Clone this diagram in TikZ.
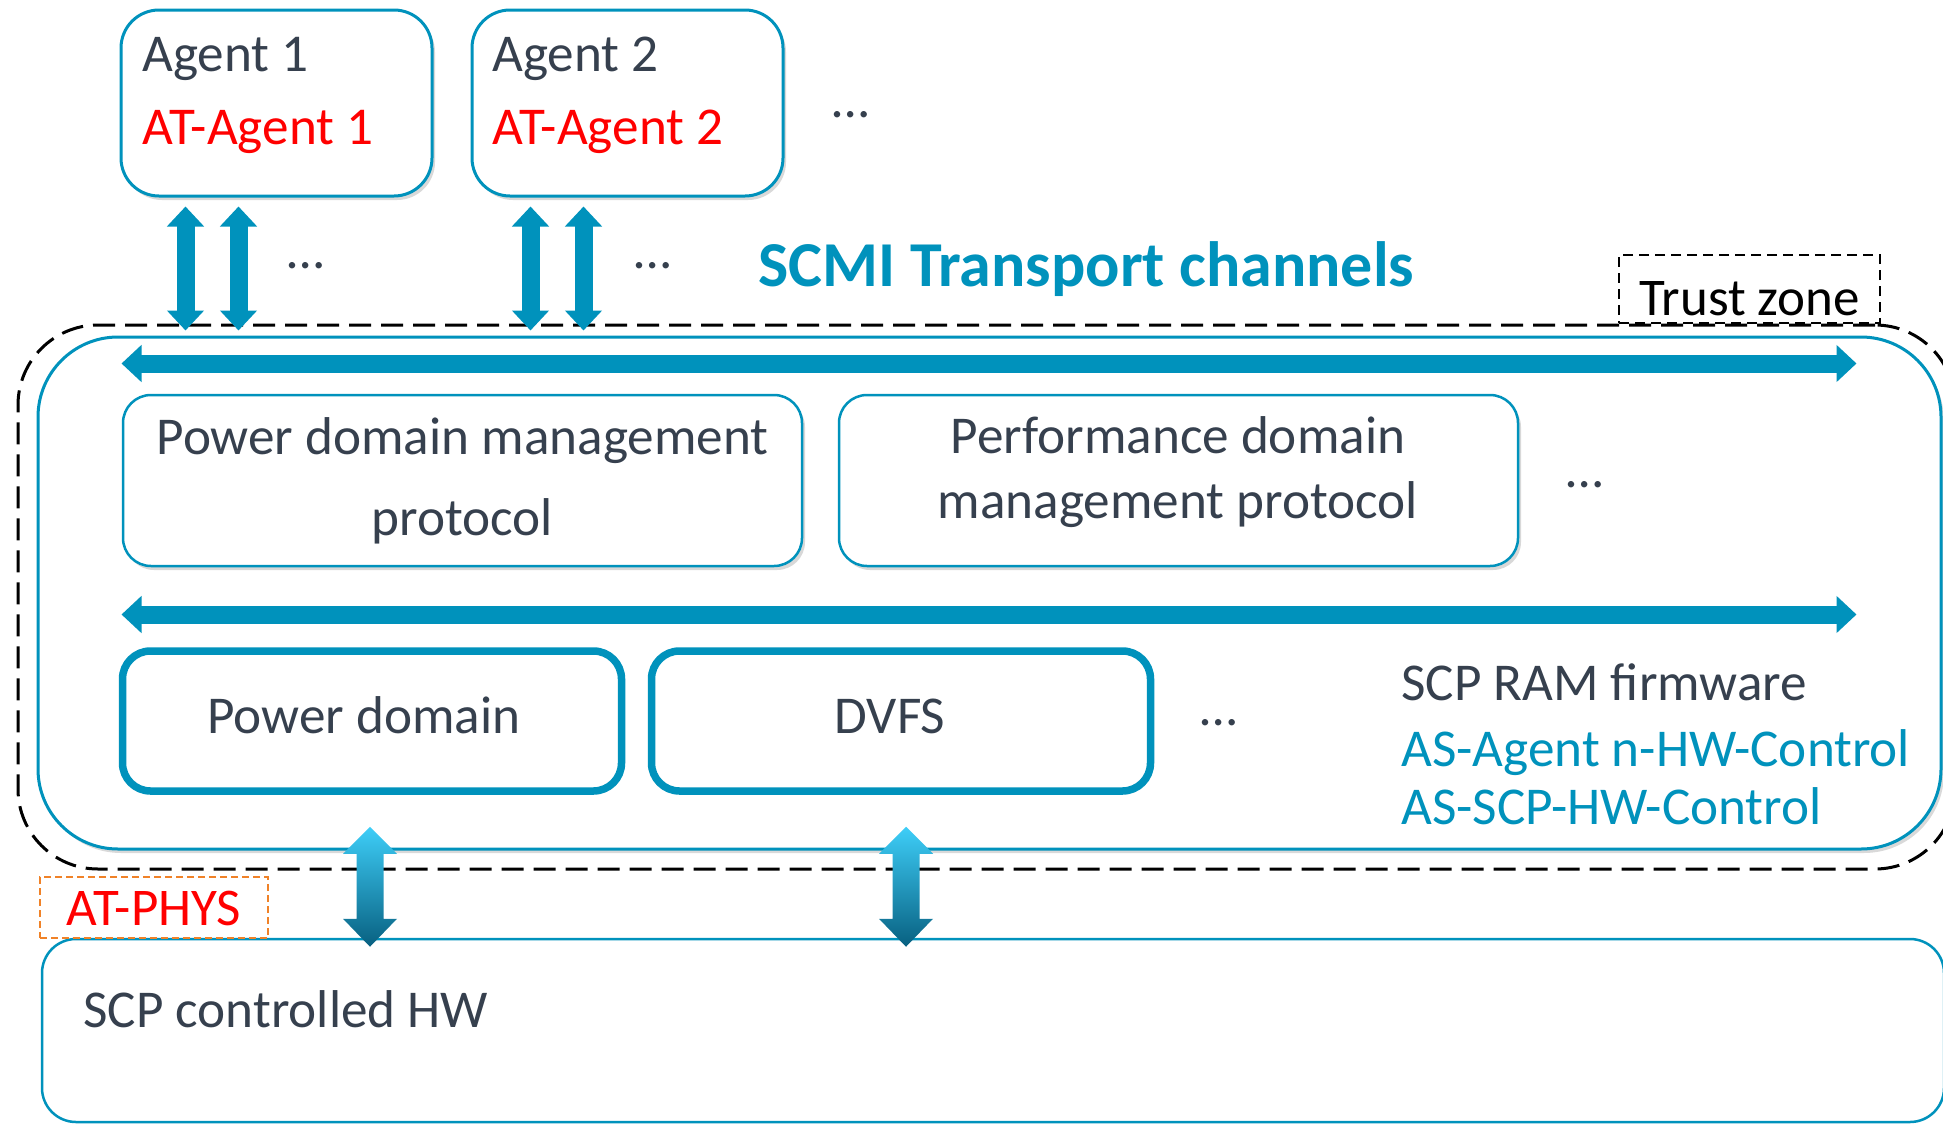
\documentclass[tikz,border=0pt]{standalone}
\usepackage{fontspec}
\setmainfont{Carlito}
\usepackage{tikz}
\usetikzlibrary{positioning}
\usetikzlibrary{arrows.meta,shadows}

\definecolor{scmiblue}{RGB}{0,146,188}
\definecolor{txtgray}{RGB}{54,64,78}
\definecolor{atred}{RGB}{255,0,0}
\definecolor{physorange}{RGB}{240,130,40}
\definecolor{hwtop}{RGB}{62,206,248}
\definecolor{hwbot}{RGB}{8,96,128}

% shaded up/down arrow between a unit box and the HW box
\newcommand\hwlink[1]{%
  \shade[hwgrad] (#1) ++(0,-111) -- ++(27,27) -- ++(-13.5,0) -- ++(0,65) -- ++(13.5,0)
    -- ++(-27,28) -- ++(-27,-28) -- ++(13.5,0) -- ++(0,-65) -- ++(-13.5,0) -- cycle;}

\begin{document}
\begin{tikzpicture}[x=0.5pt, y=-0.5pt,
    boxshadow/.style = {drop shadow={shadow xshift=1.5pt, shadow yshift=-2pt, opacity=.3}},
    agent/.style = {draw=scmiblue, line width=1.5pt, rounded corners=19pt, fill=white,
                    minimum width=155.5pt, minimum height=93pt, boxshadow},
    proto/.style = {draw=scmiblue, line width=1.25pt, rounded corners=14pt, fill=white,
                    minimum width=339.5pt, minimum height=85.5pt, boxshadow},
    unit/.style = {draw=scmiblue, line width=3.75pt, rounded corners=14pt,
                   minimum width=249.5pt, minimum height=70pt},
    txt/.style = {text=txtgray, font=\fontsize{26.6}{31}\selectfont, inner sep=0pt, anchor=base},
    chan/.style = {draw=scmiblue, line width=9pt,
                   {Triangle[width=18pt,length=10pt]}-{Triangle[width=18pt,length=10pt]}},
    hwgrad/.style = {top color=hwtop, bottom color=hwbot, draw=none}]
  \useasboundingbox (0,0) rectangle (1943,1124);
  \clip (0,0) rectangle (1943,1124);

  % trust zone and firmware container
  \node[draw=black, line width=1.5pt, dash pattern=on 11pt off 5pt, rounded corners=40pt,
        minimum width=968.5pt, minimum height=272pt] (zone) at (986.5,597) {};
  \node[draw=scmiblue, line width=1.5pt, rounded corners=40pt, fill=white, boxshadow,
        minimum width=951.5pt, minimum height=256pt] (ram) at (989.5,593) {};
  \node[draw=black, line width=1pt, dash pattern=on 5pt off 3pt, inner sep=0pt,
        minimum width=130.5pt, minimum height=34pt, text height=26pt, text depth=0pt,
        font=\fontsize{26.5}{30}\selectfont] (tz) at (1749.5,289) {Trust zone};

  % controlled hardware
  \node[draw=scmiblue, line width=1.25pt, rounded corners=17pt, fill=white,
        minimum width=951pt, minimum height=91.5pt] (hw) at (993,1030.5) {};
  \node[txt, anchor=base west] (hwtxt) at (83,1027) {SCP controlled HW};
  \node[draw=physorange, line width=1pt, dash pattern=on 3.5pt off 2pt, inner sep=0pt,
        minimum width=114pt, minimum height=30.5pt, text height=17.5pt, text depth=0pt,
        text=atred, font=\fontsize{26.5}{30}\selectfont] (phys) at (154,907.5) {AT-PHYS};

  % agents
  \node[agent] (ag1) at (276.5,103) {};
  \node[agent] (ag2) [right=18.5pt of ag1] {};
  \node[txt, anchor=base west] (ag1name) at (142,71) {Agent 1};
  \node[txt, anchor=base west, text=atred] (ag1at) at (142,144) {AT-Agent 1};
  \node[txt, anchor=base west] (ag2name) at (492,71) {Agent 2};
  \node[txt, anchor=base west, text=atred] (ag2at) at (492,144) {AT-Agent 2};
  \node[txt, anchor=base west] (agdots) at (832,117) {…};

  % transport channels
  \coordinate (c1) at ([xshift=33pt]ag1.south west);
  \coordinate (c2) at ([xshift=59.5pt]ag1.south west);
  \coordinate (c3) at ([xshift=30pt]ag2.south west);
  \coordinate (c4) at ([xshift=56.5pt]ag2.south west);
  \draw[chan, shorten <=4.5pt, shorten >=2.5pt] (c1) -- (c1 |- ram.north);
  \draw[chan, shorten <=4.5pt, shorten >=2.5pt] (c2) -- (c2 |- ram.north);
  \draw[chan, shorten <=4.5pt, shorten >=2.5pt] (c3) -- (c3 |- ram.north);
  \draw[chan, shorten <=4.5pt, shorten >=2.5pt] (c4) -- (c4 |- ram.north);
  \node[txt, anchor=base west] (cdots1) at (287,268) {…};
  \node[txt, anchor=base west] (cdots2) at (634,268) {…};
  \node[txt, anchor=base west, text=scmiblue, font=\fontsize{32}{36}\selectfont\bfseries]
    (title) at (758,286) {SCMI Transport channels};

  % buses
  \coordinate (busAL) at ([xshift=42.5pt, yshift=-14pt]ram.north west);
  \coordinate (busAR) at ([xshift=-43pt, yshift=-14pt]ram.north east);
  \coordinate (busBL) at ([xshift=42.5pt, yshift=-139.5pt]ram.north west);
  \coordinate (busBR) at ([xshift=-43pt, yshift=-139.5pt]ram.north east);
  \draw[chan] (busAL) -- (busAR);
  \draw[chan] (busBL) -- (busBR);

  % protocols
  \node[proto] (pp) at (462.5,480.5) {};
  \node[proto] (perf) [right=17.25pt of pp] {};
  \node[txt] (pptxt1) at (462.5,454) {Power domain management};
  \node[txt] (pptxt2) at (462.5,535) {protocol};
  \node[txt] (perftxt1) at (1178,453) {Performance domain};
  \node[txt] (perftxt2) at (1178,518) {management protocol};
  \node[txt, anchor=base west] (pdots) at (1566,487) {…};

  % units
  \node[unit] (pd) at (372,721) {};
  \node[unit] (dv) [right=11.25pt of pd] {};
  \node[txt] (pdtxt) at (364,733) {Power domain};
  \node[txt] (dvtxt) at (890,733) {DVFS};
  \node[txt, anchor=base west] (udots) at (1200,725) {…};
  \node[txt, anchor=base west] (fw) at (1401,700) {SCP RAM firmware};
  \node[txt, anchor=base west, text=scmiblue] (asag) at (1401,766) {AS-Agent n-HW-Control};
  \node[txt, anchor=base west, text=scmiblue] (asscp) at (1401,824) {AS-SCP-HW-Control};

  % links to hardware
  \path (dv.south |- hw.north) ++(5,0) coordinate (lk2);
  \path (pd.south |- hw.north) ++(-2,0) coordinate (lk1);
  \hwlink{lk1}
  \hwlink{lk2}
\end{tikzpicture}
\end{document}
